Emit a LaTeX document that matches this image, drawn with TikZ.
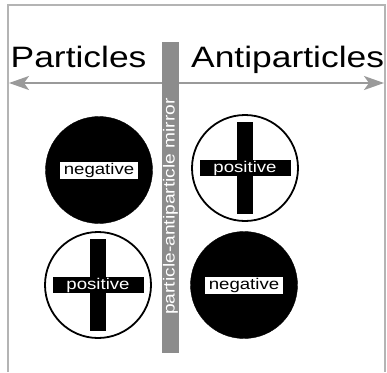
\documentclass[tikz,border=0pt]{standalone}
\usepackage{fontspec}
\setmainfont[FakeStretch=1.2]{Liberation Sans}
\usetikzlibrary{arrows.meta}
\definecolor{framegray}{HTML}{B4B4B4}
\definecolor{arrowgray}{HTML}{9A9A9A}
\definecolor{bargray}{HTML}{8C8C8C}
\tikzset{
  x=1pt, y=-1pt,
  title/.style={inner sep=0pt, anchor=base west, font=\fontsize{29.5}{30}\selectfont},
  negball/.style={circle, fill=black, draw=black, minimum size=107pt, inner sep=0pt},
  posball/.style={circle, fill=white, draw=black, line width=1.8pt, minimum size=106pt, inner sep=0pt},
  negbox/.style={fill=white, text=black, minimum width=78pt, minimum height=17pt, inner sep=0pt, font=\fontsize{15.5}{16}\selectfont},
  poslabel/.style={fill=black, text=white, minimum width=91pt, minimum height=16pt, inner sep=0pt, font=\fontsize{15.5}{16}\selectfont},
  crossbar/.style={fill=black, minimum width=16pt, minimum height=92pt, inner sep=0pt},
  mirrorbar/.style={fill=bargray, minimum width=17pt, minimum height=311pt, inner sep=0pt},
}
\begin{document}
\begin{tikzpicture}
\useasboundingbox (0,0) rectangle (387,372);
% frame
\draw[framegray, line width=1.5pt] (8,372) -- (8,5) -- (385,5) -- (385,372);
% titles
\node[title] (part) at (10.5,67) {Particles};
\node[title] (anti) at (191,67) {Antiparticles};
% arrow
\coordinate (al) at (9,83);
\coordinate (ar) at (384,83);
\draw[arrowgray, line width=2pt, {Stealth[length=20pt,width=14pt,inset=5pt]}-{Stealth[length=20pt,width=14pt,inset=5pt]}] (al) -- (ar);
% mirror
\node[mirrorbar] (mirror) at (170.5,197.5) {};
\node[rotate=90, text=white, inner sep=0pt, font=\fontsize{16}{16}\selectfont] (mtext) at (170.5,206.5) {particle-antiparticle mirror};
% top-left: negative particle
\node[negball] (tl) at (99,170) {};
\node[negbox] (tlt) at (tl.center) {negative};
% top-right: positive antiparticle
\node[posball] (tr) at (245,168) {};
\node[crossbar] (trv) at (tr.center) {};
\node[poslabel] (trt) at (tr.center) {positive};
% bottom-left: positive particle
\node[posball] (bl) at (98,285) {};
\node[crossbar] (blv) at (bl.center) {};
\node[poslabel] (blt) at (bl.center) {positive};
% bottom-right: negative antiparticle
\node[negball] (br) at (244,285) {};
\node[negbox] (brt) at (br.center) {negative};
\end{tikzpicture}
\end{document}
